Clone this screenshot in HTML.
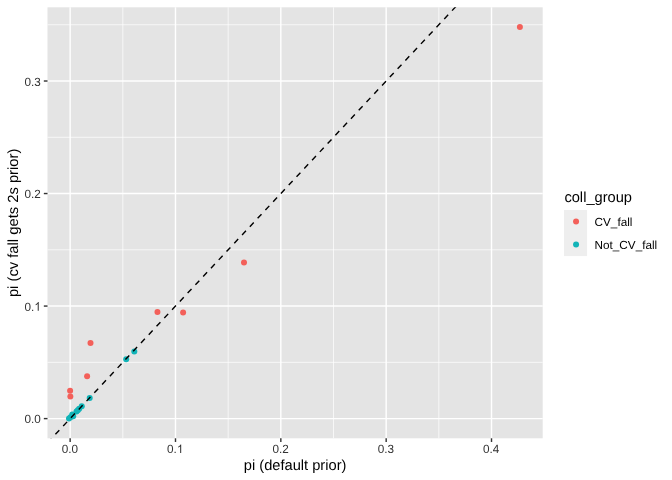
<!DOCTYPE html><html><head><meta charset="utf-8"><style>html,body{margin:0;padding:0;background:#fff;}svg{display:block;will-change:transform;}text{font-family:"Liberation Sans",sans-serif;text-rendering:geometricPrecision;}</style></head><body>
<svg width="672" height="480" viewBox="0 0 672 480">
<rect x="0" y="0" width="672" height="480" fill="#ffffff"/>
<defs><clipPath id="pc"><rect x="47.50" y="7.30" width="495.20" height="431.00"/></clipPath></defs>
<rect x="47.50" y="7.30" width="495.20" height="431.00" fill="#E4E4E4"/>
<line x1="122.82" x2="122.82" y1="7.30" y2="438.30" stroke="#fff" stroke-width="0.71"/>
<line x1="228.16" x2="228.16" y1="7.30" y2="438.30" stroke="#fff" stroke-width="0.71"/>
<line x1="333.50" x2="333.50" y1="7.30" y2="438.30" stroke="#fff" stroke-width="0.71"/>
<line x1="438.84" x2="438.84" y1="7.30" y2="438.30" stroke="#fff" stroke-width="0.71"/>
<line x1="47.50" x2="542.70" y1="362.34" y2="362.34" stroke="#fff" stroke-width="0.71"/>
<line x1="47.50" x2="542.70" y1="249.81" y2="249.81" stroke="#fff" stroke-width="0.71"/>
<line x1="47.50" x2="542.70" y1="137.28" y2="137.28" stroke="#fff" stroke-width="0.71"/>
<line x1="47.50" x2="542.70" y1="24.75" y2="24.75" stroke="#fff" stroke-width="0.71"/>
<line x1="70.15" x2="70.15" y1="7.30" y2="438.30" stroke="#fff" stroke-width="1.42"/>
<line x1="175.49" x2="175.49" y1="7.30" y2="438.30" stroke="#fff" stroke-width="1.42"/>
<line x1="280.83" x2="280.83" y1="7.30" y2="438.30" stroke="#fff" stroke-width="1.42"/>
<line x1="386.17" x2="386.17" y1="7.30" y2="438.30" stroke="#fff" stroke-width="1.42"/>
<line x1="491.51" x2="491.51" y1="7.30" y2="438.30" stroke="#fff" stroke-width="1.42"/>
<line x1="47.50" x2="542.70" y1="418.60" y2="418.60" stroke="#fff" stroke-width="1.42"/>
<line x1="47.50" x2="542.70" y1="306.07" y2="306.07" stroke="#fff" stroke-width="1.42"/>
<line x1="47.50" x2="542.70" y1="193.54" y2="193.54" stroke="#fff" stroke-width="1.42"/>
<line x1="47.50" x2="542.70" y1="81.01" y2="81.01" stroke="#fff" stroke-width="1.42"/>
<g clip-path="url(#pc)">
<circle cx="519.90" cy="26.90" r="3.00" fill="#F3605A"/>
<circle cx="244.00" cy="262.40" r="3.00" fill="#F3605A"/>
<circle cx="157.45" cy="311.90" r="3.00" fill="#F3605A"/>
<circle cx="183.10" cy="312.60" r="3.00" fill="#F3605A"/>
<circle cx="90.50" cy="343.10" r="3.00" fill="#F3605A"/>
<circle cx="87.10" cy="376.25" r="3.00" fill="#F3605A"/>
<circle cx="70.10" cy="390.80" r="3.00" fill="#F3605A"/>
<circle cx="70.35" cy="396.40" r="3.00" fill="#F3605A"/>
<circle cx="126.20" cy="359.20" r="3.00" fill="#12B4B8"/>
<circle cx="134.30" cy="351.60" r="3.00" fill="#12B4B8"/>
<circle cx="89.70" cy="397.90" r="3.00" fill="#12B4B8"/>
<circle cx="69.00" cy="418.60" r="3.00" fill="#12B4B8"/>
<circle cx="70.50" cy="417.20" r="3.00" fill="#12B4B8"/>
<circle cx="72.25" cy="414.60" r="3.00" fill="#12B4B8"/>
<circle cx="73.20" cy="416.30" r="3.00" fill="#12B4B8"/>
<circle cx="76.50" cy="411.50" r="3.00" fill="#12B4B8"/>
<circle cx="77.80" cy="410.20" r="3.00" fill="#12B4B8"/>
<circle cx="79.20" cy="408.80" r="3.00" fill="#12B4B8"/>
<circle cx="81.75" cy="406.25" r="3.00" fill="#12B4B8"/>
<line x1="47.64" y1="442.65" x2="543.13" y2="-86.66" stroke="#000" stroke-width="1.42" stroke-dasharray="5.69 5.69"/>
</g>
<line x1="70.15" x2="70.15" y1="438.30" y2="441.97" stroke="#333" stroke-width="1.42"/>
<line x1="175.49" x2="175.49" y1="438.30" y2="441.97" stroke="#333" stroke-width="1.42"/>
<line x1="280.83" x2="280.83" y1="438.30" y2="441.97" stroke="#333" stroke-width="1.42"/>
<line x1="386.17" x2="386.17" y1="438.30" y2="441.97" stroke="#333" stroke-width="1.42"/>
<line x1="491.51" x2="491.51" y1="438.30" y2="441.97" stroke="#333" stroke-width="1.42"/>
<line x1="43.83" x2="47.50" y1="418.60" y2="418.60" stroke="#333" stroke-width="1.42"/>
<line x1="43.83" x2="47.50" y1="306.07" y2="306.07" stroke="#333" stroke-width="1.42"/>
<line x1="43.83" x2="47.50" y1="193.54" y2="193.54" stroke="#333" stroke-width="1.42"/>
<line x1="43.83" x2="47.50" y1="81.01" y2="81.01" stroke="#333" stroke-width="1.42"/>
<g transform="translate(61.697,453.100) scale(1,1.0200)">
<text x="0.00" y="0" font-size="11.73" fill="#333333">0.0</text>
</g>
<g transform="translate(167.037,453.100) scale(1,1.0200)">
<text x="0.00" y="0" font-size="11.73" fill="#333333">0.</text>
<path transform="translate(9.783,0) scale(0.005728,-0.005728)" fill="#333333" d="M763 0H583V1147Q518 1085 413 1023Q308 961 224 930V1104Q375 1175 488 1276Q601 1377 648 1472H763Z"/>
</g>
<g transform="translate(272.377,453.100) scale(1,1.0200)">
<text x="0.00" y="0" font-size="11.73" fill="#333333">0.2</text>
</g>
<g transform="translate(377.717,453.100) scale(1,1.0200)">
<text x="0.00" y="0" font-size="11.73" fill="#333333">0.3</text>
</g>
<g transform="translate(483.057,453.100) scale(1,1.0200)">
<text x="0.00" y="0" font-size="11.73" fill="#333333">0.4</text>
</g>
<g transform="translate(24.594,423.200) scale(1,1.0200)">
<text x="0.00" y="0" font-size="11.73" fill="#333333">0.0</text>
</g>
<g transform="translate(24.594,310.670) scale(1,1.0200)">
<text x="0.00" y="0" font-size="11.73" fill="#333333">0.</text>
<path transform="translate(9.783,0) scale(0.005728,-0.005728)" fill="#333333" d="M763 0H583V1147Q518 1085 413 1023Q308 961 224 930V1104Q375 1175 488 1276Q601 1377 648 1472H763Z"/>
</g>
<g transform="translate(24.594,198.140) scale(1,1.0200)">
<text x="0.00" y="0" font-size="11.73" fill="#333333">0.2</text>
</g>
<g transform="translate(24.594,85.610) scale(1,1.0200)">
<text x="0.00" y="0" font-size="11.73" fill="#333333">0.3</text>
</g>
<text x="295.10" y="469.5" font-size="14.67" fill="#000" text-anchor="middle">pi (default prior)</text>
<text transform="translate(17.9,222.90) rotate(-90) scale(1.0068,1)" font-size="14.67" fill="#000" text-anchor="middle">pi (cv fall gets 2s prior)</text>
<text x="564.4" y="202.1" font-size="14.67" fill="#000">coll_group</text>
<rect x="564.06" y="210" width="23.04" height="46.08" fill="#EEEEEE"/>
<circle cx="576.05" cy="221.6" r="3.00" fill="#F3605A"/>
<circle cx="576.05" cy="244.5" r="3.00" fill="#12B4B8"/>
<text x="594.6" y="225.9" font-size="11.73" fill="#000">CV_fall</text>
<text x="594.6" y="249.0" font-size="11.73" fill="#000">Not_CV_fall</text>
</svg></body></html>
